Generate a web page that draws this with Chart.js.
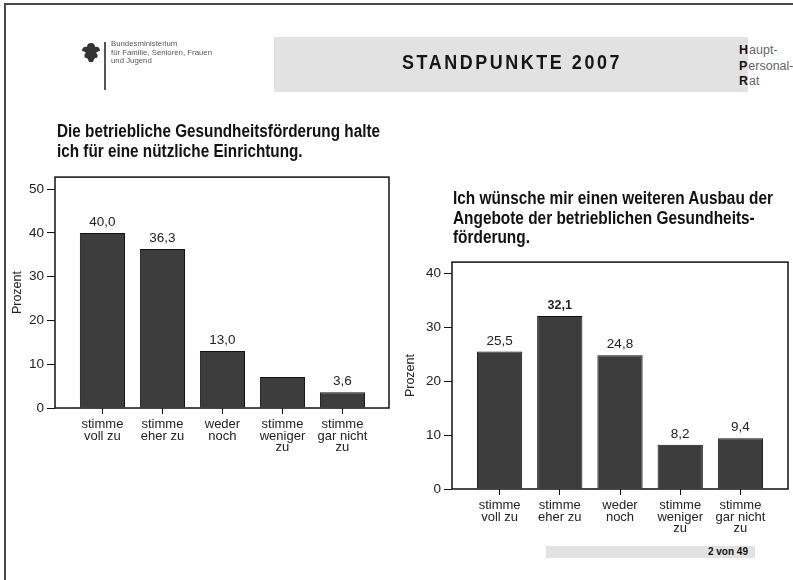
<!DOCTYPE html>
<html lang="de">
<head>
<meta charset="utf-8">
<script src="https://cdn.jsdelivr.net/npm/chart.js@4.4.1/dist/chart.umd.min.js"></script>
<style>
  html, body { margin: 0; padding: 0; background: #fff; }
  body { width: 793px; height: 580px; position: relative; overflow: hidden;
         font-family: "Liberation Sans", Arial, sans-serif; }
  .rand { position: absolute; left: 4px; top: 3px; right: 0; bottom: 0;
          border-left: 2px solid #4a4a4a; border-top: 2px solid #4a4a4a; }
  .logo { position: absolute; left: 81px; top: 40px; filter: blur(0.45px); }
  .logo .strich { position: absolute; left: 23px; top: 2px; width: 2px; height: 48px; background: #555; }
  .logo .text { position: absolute; left: 30px; top: 0; font: 7.8px/8.6px "Liberation Sans", sans-serif;
                color: #555; white-space: nowrap; }
  .kopf { position: absolute; left: 274px; top: 37px; width: 474px; height: 55px; background: #e2e2e2; }
  .kopf span { position: absolute; left: 128px; top: 13px; display: inline-block; font-weight: bold;
               font-size: 21px; letter-spacing: 3px; color: #161616; white-space: nowrap;
               transform-origin: left top; }
  .hpr { position: absolute; left: 739px; top: 43px; font: 12.5px/15.5px "Liberation Sans", sans-serif;
         color: #666; white-space: nowrap; }
  .hpr b { color: #111; margin-right: 1px; }
  .titel { position: absolute; font-weight: bold; font-size: 18px; line-height: 19.5px; color: #111;
           white-space: nowrap; transform-origin: left top; }
  .fuss { position: absolute; left: 546px; top: 546px; width: 209px; height: 12px; background: #e2e2e2;
          font: bold 10px/12px "Liberation Sans", sans-serif; color: #111; text-align: right; }
  .fuss span { padding-right: 7px; }
  canvas { position: absolute; }
</style>
</head>
<body>
<div class="rand"></div>

<div class="logo">
  <svg width="20" height="22" viewBox="0 0 20 22" style="position:absolute;left:0;top:2px">
    <path d="M10 1 C7 1 6 3 6 5 C3 4 1 6 1 9 C3 9 4 10 5 11 C3 12 3 14 4 16 C6 15 7 17 8 20 L12 20 C13 17 14 15 16 16 C17 14 17 12 15 11 C16 10 17 9 19 9 C19 6 17 4 14 5 C14 3 13 1 10 1 Z" fill="#333"/>
  </svg>
  <div class="strich"></div>
  <div class="text">Bundesministerium<br>für Familie, Senioren, Frauen<br>und Jugend</div>
</div>

<div class="kopf"><span id="kopfText">STANDPUNKTE 2007</span></div>
<div class="hpr"><b>H</b>aupt-<br><b>P</b>ersonal-<br><b>R</b>at</div>

<div class="titel" id="titelLinks" style="left:57px;top:122px">Die betriebliche Gesundheitsförderung halte<br>ich für eine nützliche Einrichtung.</div>
<div class="titel" id="titelRechts" style="left:453px;top:189px">Ich wünsche mir einen weiteren Ausbau der<br>Angebote der betrieblichen Gesundheits-<br>förderung.</div>

<canvas id="nutzen" width="400" height="294" style="left:0;top:166px"></canvas>
<canvas id="ausbau" width="398" height="329" style="left:395px;top:251px"></canvas>

<div class="fuss"><span>2 von 49</span></div>

<script>
// Antwortkategorien (mehrzeilige Achsenbeschriftung)
const kategorien = [
  ['stimme', 'voll zu'],
  ['stimme', 'eher zu'],
  ['weder', 'noch'],
  ['stimme', 'weniger', 'zu'],
  ['stimme', 'gar nicht', 'zu']
];

// "Die betriebliche Gesundheitsförderung halte ich für eine nützliche Einrichtung."
const nutzenWerte = [40.0, 36.3, 13.0, 7.1, 3.6];
const nutzenBeschriftet = [true, true, true, false, true];
const nutzenTicks = [0, 10, 20, 30, 40, 50];

// "Ich wünsche mir einen weiteren Ausbau ..."
const ausbauWerte = [25.5, 32.1, 24.8, 8.2, 9.4];
const ausbauFett = [false, true, false, false, false];
const ausbauTicks = [0, 10, 20, 30, 40];

const schrift = '"Liberation Sans", Arial, sans-serif';
const zahl = (v) => v.toFixed(1).replace('.', ',');

// Überschriften auf Breite stauchen (schmale Grotesk im Original-Layout)
function stauchen(id, breite) {
  const el = document.getElementById(id);
  const w = el.getBoundingClientRect().width;
  el.style.transform = `scaleX(${breite / w})`;
}
stauchen('titelLinks', 323);
stauchen('titelRechts', 320);
stauchen('kopfText', 220);

// Rahmen um den Plotbereich
const rahmen = {
  id: 'rahmen',
  afterDatasetsDraw(chart) {
    const { ctx, chartArea: a } = chart;
    ctx.save();
    ctx.strokeStyle = '#111';
    ctx.lineWidth = 1.5;
    ctx.strokeRect(a.left, a.top, a.right - a.left, a.bottom - a.top);
    ctx.restore();
  }
};

// Prozentwerte über den Balken
function werteText(werte, zeigen, fett) {
  return {
    id: 'werteText',
    afterDatasetsDraw(chart) {
      const ctx = chart.ctx;
      ctx.save();
      ctx.fillStyle = '#222';
      ctx.textAlign = 'center';
      ctx.textBaseline = 'alphabetic';
      chart.getDatasetMeta(0).data.forEach((bar, i) => {
        if (!zeigen[i]) return;
        ctx.font = fett[i] ? `bold 12.5px ${schrift}` : `13.5px ${schrift}`;
        ctx.fillText(zahl(werte[i]), bar.x, bar.y - 7);
      });
      ctx.restore();
    }
  };
}

function balken(id, werte, o) {
  return new Chart(document.getElementById(id), {
    type: 'bar',
    data: {
      datasets: [{
        data: werte.map((y, x) => ({ x, y })),
        backgroundColor: '#3d3d3d',
        borderColor: '#111',
        borderWidth: 1,
        barPercentage: 0.94,
        categoryPercentage: 0.8
      }]
    },
    options: {
      responsive: false,
      animation: false,
      events: [],
      layout: { padding: { left: 0, right: o.rechts, top: 8, bottom: 0 } },
      plugins: { legend: { display: false }, tooltip: { enabled: false } },
      scales: {
        x: {
          type: 'linear',
          min: o.xMin,
          max: o.xMax,
          offset: false,
          afterBuildTicks: (a) => { a.ticks = kategorien.map((_, i) => ({ value: i })) },
          afterFit: (a) => { a.height = o.xHoehe },
          border: { display: false },
          grid: { offset: false, drawOnChartArea: false, drawTicks: true, tickLength: 6, color: '#111', lineWidth: 1 },
          ticks: {
            callback: (v) => kategorien[v],
            autoSkip: false,
            maxRotation: 0,
            padding: 4,
            color: '#222',
            font: { family: schrift, size: 13, lineHeight: 0.92 }
          }
        },
        y: {
          min: 0,
          max: o.yMax,
          afterBuildTicks: (a) => { a.ticks = o.ticks.map((value) => ({ value })) },
          afterFit: (a) => { a.width = o.yBreite },
          border: { display: false },
          grid: { drawOnChartArea: false, drawTicks: true, tickLength: 8, color: '#111', lineWidth: 1 },
          ticks: { padding: 3, color: '#222', font: { family: schrift, size: 13.5 } },
          title: {
            display: true,
            text: 'Prozent',
            color: '#222',
            padding: { top: o.titelAbstand, bottom: 0 },
            font: { family: schrift, size: 12.5 }
          }
        }
      }
    },
    plugins: [rahmen, werteText(werte, o.zeigen, o.fett)]
  });
}

balken('nutzen', nutzenWerte, {
  ticks: nutzenTicks, yMax: 52.75, xMin: -0.79, xMax: 4.775,
  yBreite: 55, xHoehe: 52, rechts: 11, titelAbstand: 10,
  zeigen: nutzenBeschriftet, fett: nutzenWerte.map(() => false)
});

balken('ausbau', ausbauWerte, {
  ticks: ausbauTicks, yMax: 42.1, xMin: -0.79, xMax: 4.79,
  yBreite: 57, xHoehe: 91, rechts: 5, titelAbstand: 8,
  zeigen: ausbauWerte.map(() => true), fett: ausbauFett
});
</script>
</body>
</html>
